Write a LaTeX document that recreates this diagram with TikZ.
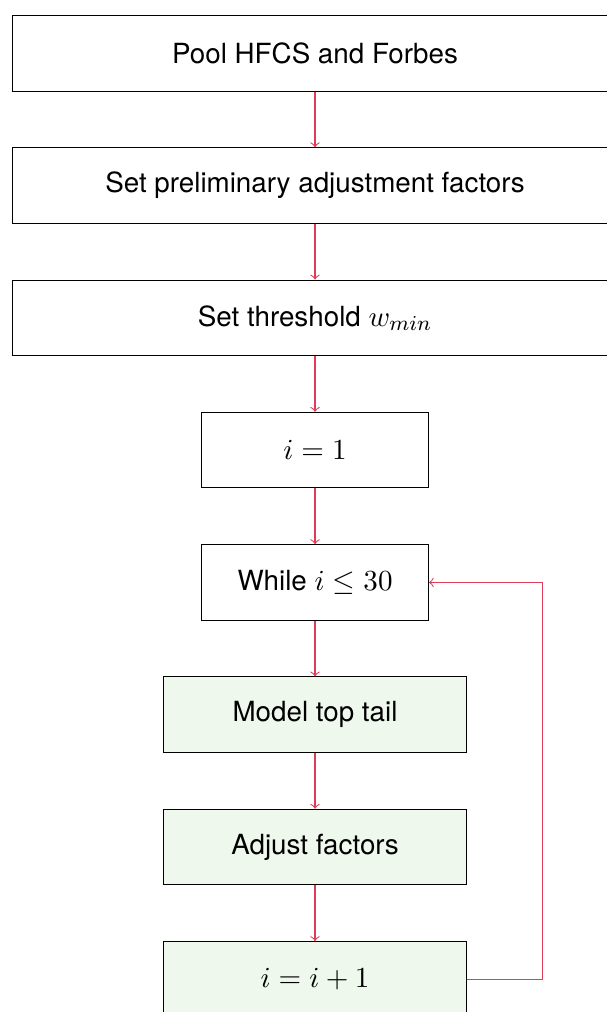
\documentclass[tikz,border=0pt]{standalone}
\usepackage{fontspec}
\newfontfamily\helv[Scale=0.95]{TeX Gyre Heros}
\definecolor{flowred}{RGB}{222,60,88}
\definecolor{loopgreen}{RGB}{239,248,237}
\begin{document}
\begin{tikzpicture}[
    stepbox/.style={
        rectangle,
        draw=black,
        minimum height=1cm,
        font=\fontsize{11}{13.6}\selectfont\helv,
        align=center
    },
    loopbox/.style={
        stepbox,
        fill=loopgreen,
        minimum width=4cm
    },
    flow/.style={
        ->,
        flowred
    }
]

\useasboundingbox (-4.167,0.704) rectangle (3.862,-12.682);

\node[stepbox, minimum width=8cm] (pool) at (0,0) {Pool HFCS and Forbes};
\node[stepbox, minimum width=8cm] (prelim) at (0,-1.75) {Set preliminary adjustment factors};
\node[stepbox, minimum width=8cm] (thresh) at (0,-3.5) {Set threshold $w_{min}$};
\node[stepbox, minimum width=3cm] (init) at (0,-5.25) {$i = 1$};
\node[stepbox, minimum width=3cm] (while) at (0,-7) {While $i \leq 30$};
\node[loopbox] (model) at (0,-8.75) {Model top tail};
\node[loopbox] (adjust) at (0,-10.5) {Adjust factors};
\node[loopbox] (inc) at (0,-12.25) {$i = i + 1$};

\draw[flow] (pool) -- (prelim);
\draw[flow] (prelim) -- (thresh);
\draw[flow] (thresh) -- (init);
\draw[flow] (init) -- (while);
\draw[flow] (while) -- (model);
\draw[flow] (model) -- (adjust);
\draw[flow] (adjust) -- (inc);
\draw[flow] (inc.east) -- ++(1,0) |- (while.east);

\end{tikzpicture}
\end{document}
